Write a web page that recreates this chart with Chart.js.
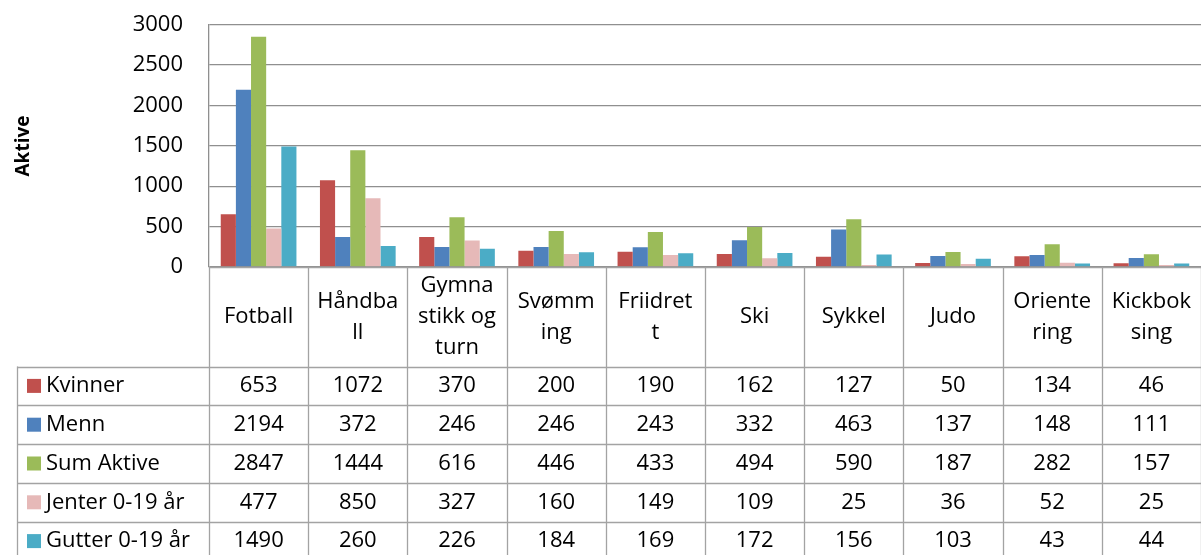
<!DOCTYPE html>
<html>
<head>
<meta charset="utf-8">
<script src="https://cdn.jsdelivr.net/npm/chart.js@4/dist/chart.umd.min.js"></script>
<style>
  html, body { margin: 0; padding: 0; background: #ffffff; }
  #wrap { width: 1201px; height: 555px; position: relative; }
</style>
</head>
<body>
<div id="wrap"><canvas id="c" width="1201" height="555"></canvas></div>
<script>
// ---- data ----
const categories = ["Fotball", "Håndball", "Gymnastikk og turn", "Svømming", "Friidrett", "Ski", "Sykkel", "Judo", "Orientering", "Kickboksing"];
const categoryLabelLines = [
  ["Fotball"], ["Håndba", "ll"], ["Gymna", "stikk og", "turn"], ["Svømm", "ing"], ["Friidret", "t"],
  ["Ski"], ["Sykkel"], ["Judo"], ["Oriente", "ring"], ["Kickbok", "sing"]
];
const seriesNames = ["Kvinner", "Menn", "Sum Aktive", "Jenter 0-19 år", "Gutter 0-19 år"];
const kvinner = [653, 1072, 370, 200, 190, 162, 127, 50, 134, 46];
const menn = [2194, 372, 246, 246, 243, 332, 463, 137, 148, 111];
const sumAktive = [2847, 1444, 616, 446, 433, 494, 590, 187, 282, 157];
const jenter = [477, 850, 327, 160, 149, 109, 25, 36, 52, 25];
const gutter = [1490, 260, 226, 184, 169, 172, 156, 103, 43, 44];
const yTicks = [0, 500, 1000, 1500, 2000, 2500, 3000];
const yTitle = "Aktive";

const colors = ["#C0504D", "#4F81BD", "#9BBB59", "#E6B9B8", "#4BACC6"];
const seriesData = [kvinner, menn, sumAktive, jenter, gutter];
const FONT = "'Open Sans', 'Noto Sans', sans-serif";
const LINE = "#a3a3a3";

const tablePlugin = {
  id: "dataTable",
  afterDraw(chart) {
    const ctx = chart.ctx;
    const ca = chart.chartArea;
    const xs = chart.scales.x;
    const n = categories.length;
    const catW = (ca.right - ca.left) / n;
    const headerH = 99.5;
    const rowH = 38.8;
    const tableLeft = 17;
    const y0 = ca.bottom;
    const yHeader = y0 + headerH;
    const H = chart.height;
    ctx.save();
    ctx.strokeStyle = LINE;
    ctx.lineWidth = 1.3;
    for (let i = 0; i <= n; i++) {
      const x = Math.round(ca.left + i * catW) + 0.5;
      ctx.beginPath();
      ctx.moveTo(x, y0);
      ctx.lineTo(x, H);
      ctx.stroke();
    }
    ctx.beginPath();
    ctx.moveTo(tableLeft + 0.5, yHeader);
    ctx.lineTo(tableLeft + 0.5, H);
    ctx.stroke();
    ctx.beginPath();
    ctx.moveTo(ca.left, Math.round(y0) + 0.5);
    ctx.lineTo(ca.right, Math.round(y0) + 0.5);
    ctx.stroke();
    for (let r = 0; r < seriesNames.length; r++) {
      const y = Math.round(yHeader + r * rowH) + 0.5;
      ctx.beginPath();
      ctx.moveTo(tableLeft, y);
      ctx.lineTo(ca.right, y);
      ctx.stroke();
    }
    ctx.fillStyle = "#000";
    ctx.font = "22px " + FONT;
    ctx.textAlign = "center";
    ctx.textBaseline = "middle";
    const lh = 31;
    const hc = y0 + headerH / 2;
    for (let i = 0; i < n; i++) {
      const cx = xs.getPixelForValue(i);
      const lines = categoryLabelLines[i];
      const start = hc - (lines.length - 1) * lh / 2;
      lines.forEach((t, k) => ctx.fillText(t, cx, start + k * lh));
    }
    for (let r = 0; r < seriesNames.length; r++) {
      const cy = yHeader + r * rowH + rowH / 2;
      ctx.fillStyle = colors[r];
      ctx.fillRect(27, cy - 7, 14, 14);
      ctx.fillStyle = "#000";
      ctx.textAlign = "left";
      ctx.fillText(seriesNames[r], 46, cy);
      ctx.textAlign = "center";
      for (let i = 0; i < n; i++) {
        ctx.fillText(String(seriesData[r][i]), xs.getPixelForValue(i), cy);
      }
    }
    ctx.save();
    ctx.translate(24, 146);
    ctx.rotate(-Math.PI / 2);
    ctx.font = "bold 19px " + FONT;
    ctx.textAlign = "center";
    ctx.fillText(yTitle, 0, 0);
    ctx.restore();
    ctx.restore();
  }
};

new Chart(document.getElementById("c"), {
  type: "bar",
  data: {
    labels: categories,
    datasets: seriesNames.map((name, i) => ({
      label: name,
      data: seriesData[i],
      backgroundColor: colors[i],
      borderWidth: 0,
      categoryPercentage: 0.763,
      barPercentage: 1.0
    }))
  },
  options: {
    responsive: false,
    animation: false,
    devicePixelRatio: 1,
    layout: { padding: { left: 0, right: 0, top: 24.5, bottom: 288 } },
    plugins: { legend: { display: false }, tooltip: { enabled: false } },
    scales: {
      x: { display: false },
      y: {
        min: 0, max: 3000,
        afterFit(scale) { scale.width = 209; scale.paddingTop = 0; scale.paddingBottom = 0; },
        afterBuildTicks(scale) { scale.ticks = yTicks.map(v => ({ value: v })); },
        grid: { color: "#8f8f8f", lineWidth: 1.3, drawTicks: false },
        border: { color: "#8f8f8f", width: 1.3 },
        ticks: { padding: 26, color: "#000", font: { family: FONT, size: 22 }, callback: (v) => String(v) }
      }
    }
  },
  plugins: [tablePlugin]
});
</script>
</body>
</html>
